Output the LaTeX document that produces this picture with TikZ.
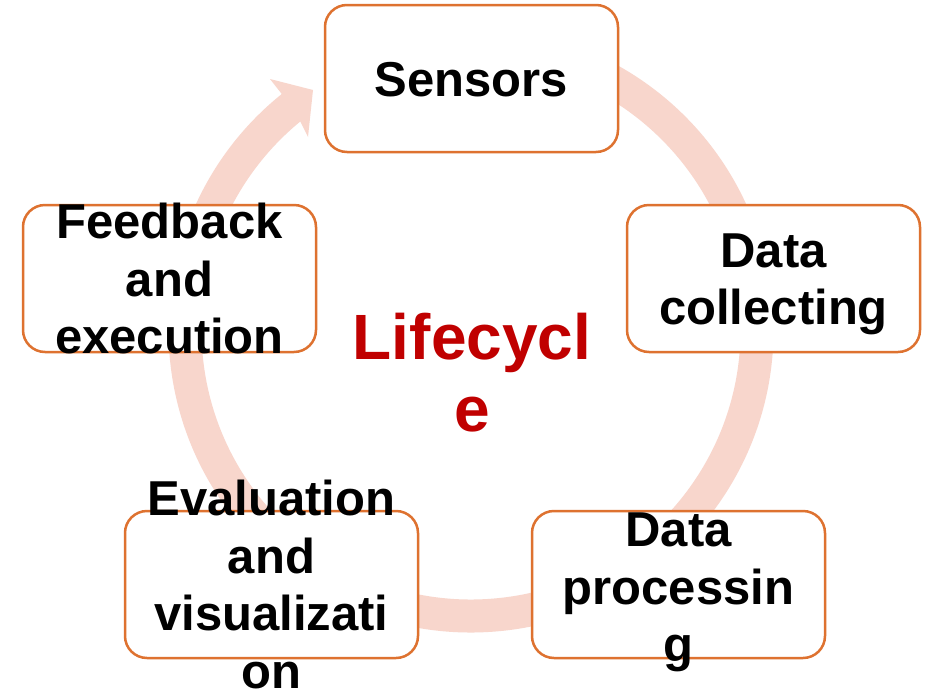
\documentclass[tikz,border=0pt]{standalone}
\usepackage{fontspec}
\setmainfont{Liberation Sans}
\definecolor{ringfill}{HTML}{F8D6CC}
\definecolor{boxline}{HTML}{DE7230}
\definecolor{titlered}{HTML}{C00000}
\tikzset{
  stagebox/.style={draw=boxline, line width=2.5pt, fill=white, rounded corners=22pt,
    minimum width=293pt, minimum height=147pt, inner sep=0pt},
  stagetext/.style={font=\bfseries\fontsize{49}{57.5}\selectfont, align=center, inner sep=0pt},
  hubtext/.style={font=\bfseries\fontsize{64}{72}\selectfont, align=center, inner sep=0pt, text=titlered},
  ringband/.style={draw=ringfill, line width=33pt}
}
\begin{document}
\begin{tikzpicture}[x=1pt,y=-1pt]
  \fill[white] (0,0) rectangle (930,694);
  \useasboundingbox (0,0) rectangle (930,694);

  % the cycle ring with its arrow head pointing back to the first stage
  \coordinate (hub) at (471,330);
  \draw[ringband] (hub) ++(-95:286) arc[start angle=-95, end angle=231.5, radius=286];
  \fill[ringfill] (281,93) -- (270,79) -- (313,90) -- (308,137) -- (300,121) -- cycle;

  % stage boxes
  \node[stagebox] (sensors)  at (471.5,78.5) {};
  \node[stagebox] (collect)  at (773.5,278.5) {};
  \node[stagebox] (process)  at (678.5,584.5) {};
  \node[stagebox] (evaluate) at (271.5,584.5) {};
  \node[stagebox] (feedback) at (169.5,278.5) {};

  % stage labels
  \node[stagetext] (sensorsT)  at ([yshift=-1.5pt]sensors.center)  {Sensors};
  \node[stagetext] (collectT)  at ([yshift=-6pt]collect.center)  {Data\\collecting};
  \node[stagetext] (processT)  at ([yshift=-8pt]process.center)  {Data\\processin\\g};
  \node[stagetext] (evaluateT) at (evaluate) {Evaluation\\and\\visualizati\\on};
  \node[stagetext] (feedbackT) at (feedback) {Feedback\\and\\execution};

  % centre title
  \node[hubtext] (title) at (472,373) {Lifecycl\\e};
\end{tikzpicture}
\end{document}
